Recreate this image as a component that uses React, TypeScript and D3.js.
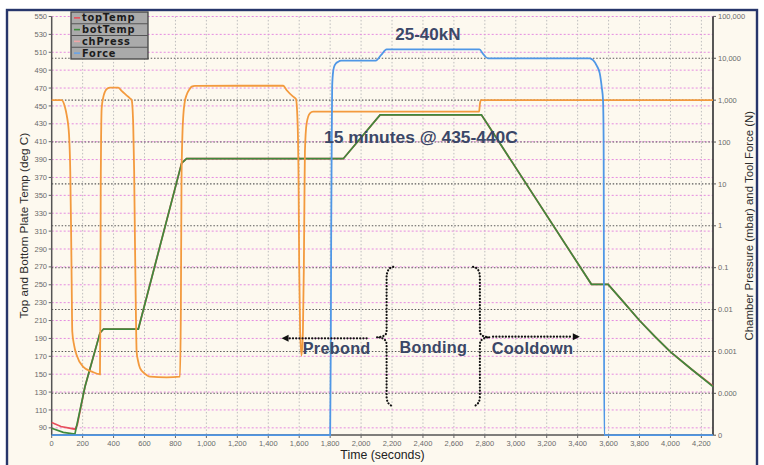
import React from "react";
import * as d3 from "d3";

// Bonding run log: plate temperatures (deg C), chamber pressure (mbar) and tool force (N) over time (s)
const seriesNames = ["topTemp", "botTemp", "chPress", "Force"];
const seriesColors = ["#e8505c", "#3f8a3c", "#f39a3e", "#4f97e6"];
const legendColors = ["#e8505c", "#3f8a3c", "#f0a6a6", "#6aa4e6"];

const topTemp: [number, number][] = [
  [0, 96], [60, 91.5], [150, 88.5], [165, 93], [215, 136], [312, 196], [335, 200.5],
  [560, 200.5], [840, 386], [872, 391], [1885, 391], [2123, 440], [2778, 440],
  [3489, 250.5], [3597, 250.5], [3700, 230], [3800, 210], [3900, 192], [4000, 175],
  [4140, 155], [4275, 137],
];

const botTemp: [number, number][] = [
  [0, 89.5], [75, 85], [150, 83], [215, 136], [312, 196], [335, 200.5],
  [560, 200.5], [840, 386], [872, 391], [1885, 391], [2123, 440], [2778, 440],
  [3489, 250.5], [3597, 250.5], [3700, 230], [3800, 210], [3900, 192], [4000, 175],
  [4140, 155], [4275, 136],
];

const chPress: [number, number][] = [
  [0, 1000], [64, 1000], [85, 700], [97, 440], [112, 150], [120, 20], [125, 1], [129, 0.05],
  [133, 3e-3], [145, 1.4e-3], [161, 8.2e-4], [204, 4.3e-4], [260, 3.3e-4], [312, 2.85e-4],
  [315, 0.01], [317, 10], [320, 200], [323, 640], [334, 1200], [344, 1590], [360, 1900],
  [377, 1990], [430, 1990], [452, 1660], [490, 1250], [506, 1107], [517, 1000], [527, 255],
  [533, 20], [538, 0.5], [544, 0.01], [549, 9.9e-4], [558, 6e-4], [571, 4e-4], [600, 3e-4],
  [635, 2.5e-4], [743, 2.4e-4], [829, 2.5e-4], [835, 0.01], [839, 10], [845, 150],
  [851, 443], [860, 900], [872, 1330], [890, 1800], [905, 2100], [926, 2200], [1497, 2210],
  [1518, 1750], [1561, 1210], [1579, 1066], [1590, 255], [1596, 10], [1600, 0.1],
  [1606, 3e-3], [1615, 8e-4], [1624, 3e-3], [1630, 0.1], [1634, 5], [1637, 60], [1648, 280],
  [1669, 485], [1690, 530], [2763, 530], [2768, 800], [2774, 1000], [4275, 1000],
];

const force: [number, number][] = [
  [0, 1e-5], [1800, 1e-5], [1804, 1e-3], [1807, 1], [1810, 60], [1813, 2100], [1820, 5000],
  [1830, 6900], [1850, 8200], [1874, 8750], [2095, 8800], [2130, 12000], [2165, 16300],
  [2765, 16300], [2790, 12500], [2820, 10000], [3478, 10000], [3500, 9000], [3525, 6500],
  [3543, 4370], [3556, 2000], [3564, 1010], [3568, 100], [3572, 1e-5], [4275, 1e-5],
];

const timeTicks = [0, 200, 400, 600, 800, 1000, 1200, 1400, 1600, 1800, 2000, 2200, 2400, 2600, 2800, 3000, 3200, 3400, 3600, 3800, 4000, 4200];
const tempTicks = [90, 110, 130, 150, 170, 190, 210, 230, 250, 270, 290, 310, 330, 350, 370, 390, 410, 430, 450, 470, 490, 510, 530, 550];
const logTicks = [1e5, 1e4, 1e3, 1e2, 1e1, 1, 1e-1, 1e-2, 1e-3, 1e-4, 1e-5];
const logTickLabels = ["100,000", "10,000", "1,000", "100", "10", "1", "0.1", "0.01", "0.001", "0.000", "0"];

const W = 764;
const H = 465;
const FONT = "'Liberation Sans', Arial, sans-serif";
const NOTE = "#3b4767";

export default function App() {
  const x = d3.scaleLinear().domain([0, 4275]).range([51.7, 713]);
  const yT = d3.scaleLinear().domain([82, 550]).range([435, 16.5]);
  const yP = d3.scaleLog().domain([1e-5, 1e5]).range([435.2, 16.4]);

  const tempLine = d3.line<[number, number]>().x((d) => x(d[0])).y((d) => yT(d[1]));
  const logLine = d3
    .line<[number, number]>()
    .x((d) => x(d[0]))
    .y((d) => yP(d[1]))
    .curve(d3.curveMonotoneX);

  const [x0, x1] = x.range();
  const yTop = 16.4;
  const yBot = 435;
  const fmt = d3.format(",");

  // curly brace drawn in data space: spine, tip and end positions along time
  const brace = (tSpine: number, tTip: number, tEnd: number) => {
    const p = d3.path();
    const sx = x(tSpine), tx = x(tTip), ex = x(tEnd);
    p.moveTo(ex, yT(270));
    p.quadraticCurveTo(sx, yT(269), sx, yT(258));
    p.lineTo(sx, yT(198));
    p.quadraticCurveTo(sx, yT(191.5), tx, yT(191.3));
    p.quadraticCurveTo(sx, yT(191), sx, yT(183));
    p.lineTo(sx, yT(125));
    p.quadraticCurveTo(sx, yT(116), ex, yT(114));
    return p.toString();
  };

  const dotStyle = {
    fill: "none",
    stroke: "#111",
    strokeWidth: 2.2,
    strokeDasharray: "0.1 3.1",
    strokeLinecap: "round" as const,
  };

  const arrowHead = (tx: number, ty: number, dir: number) => {
    const px = x(tx), py = yT(ty);
    return `M${px},${py} L${px - dir * 7},${py - 3.5} L${px - dir * 7},${py + 3.5} Z`;
  };

  const rowH = 11.75;

  return (
    <svg
      width={W}
      height={H}
      style={{ position: "absolute", left: 0, top: 0, background: "#ffffff" }}
      fontFamily={FONT}
    >
      <rect x={7} y={10} width={750} height={470} fill="#fdf9ef" stroke="#27366b" strokeWidth={2.4} />

      {/* grid */}
      {timeTicks.filter((t) => t > 0).map((t) => (
        <line key={"vx" + t} x1={x(t)} x2={x(t)} y1={yTop} y2={yBot} stroke="#bdbdbd" strokeWidth={1} strokeDasharray="1.5 2" />
      ))}
      {tempTicks.map((v) => (
        <line key={"gt" + v} x1={x0} x2={x1} y1={yT(v)} y2={yT(v)} stroke="#e58be0" strokeWidth={1} strokeDasharray="2 2" />
      ))}
      {logTicks.slice(1, -1).map((v) => (
        <line key={"gp" + v} x1={x0} x2={x1} y1={yP(v)} y2={yP(v)} stroke="#5a5a5a" strokeWidth={1.1} strokeDasharray="1.5 1.8" />
      ))}

      {/* axes */}
      <line x1={x0} x2={x0} y1={yTop} y2={yBot} stroke="#555" strokeWidth={1.5} />
      <line x1={x1} x2={x1} y1={yTop} y2={yBot} stroke="#444" strokeWidth={1.8} />
      <line x1={x0} x2={x1} y1={yBot} y2={yBot} stroke="#555" strokeWidth={1.5} />
      {tempTicks.map((v) => (
        <g key={"lt" + v}>
          <line x1={x0 - 3} x2={x0} y1={yT(v)} y2={yT(v)} stroke="#666" />
          <text x={47} y={yT(v) + 2.6} fontSize={7.5} fill="#6a6a6a" textAnchor="end">{v}</text>
        </g>
      ))}
      {logTicks.map((v, i) => (
        <g key={"rt" + v}>
          <line x1={x1} x2={x1 + 3} y1={yP(v)} y2={yP(v)} stroke="#555" />
          <text x={718} y={yP(v) + 2.6} fontSize={7.5} fill="#6a6a6a">{logTickLabels[i]}</text>
        </g>
      ))}
      {timeTicks.map((t) => (
        <g key={"bt" + t}>
          <line x1={x(t)} x2={x(t)} y1={yBot} y2={yBot + 3} stroke="#666" />
          <text x={x(t)} y={446} fontSize={7.5} fill="#6a6a6a" textAnchor="middle">{fmt(t)}</text>
        </g>
      ))}

      {/* axis titles */}
      <text transform={`translate(23.5,${(yTop + yBot) / 2}) rotate(-90)`} fontSize={11.7} fill="#2b2b2b" textAnchor="middle" dominantBaseline="central">
        Top and Bottom Plate Temp (deg C)
      </text>
      <text transform={`translate(749,${(yTop + yBot) / 2}) rotate(-90)`} fontSize={11.4} fill="#2b2b2b" textAnchor="middle" dominantBaseline="central">
        Chamber Pressure (mbar) and Tool Force (N)
      </text>
      <text x={382.5} y={459} fontSize={12.3} fill="#222" textAnchor="middle">Time (seconds)</text>

      {/* series */}
      <path d={tempLine(topTemp) ?? ""} fill="none" stroke={seriesColors[0]} strokeWidth={1.7} />
      <path d={tempLine(botTemp) ?? ""} fill="none" stroke={seriesColors[1]} strokeWidth={1.7} />
      <path d={logLine(chPress) ?? ""} fill="none" stroke={seriesColors[2]} strokeWidth={1.8} />
      <path d={logLine(force) ?? ""} fill="none" stroke={seriesColors[3]} strokeWidth={1.8} />

      {/* process phase notes */}
      <text x={x(2432)} y={yT(530.4)} fontSize={17} fontWeight="bold" fill={NOTE} textAnchor="middle" dominantBaseline="central">25-40kN</text>
      <text x={x(2387)} y={yT(415.6)} fontSize={17.4} fontWeight="bold" fill={NOTE} textAnchor="middle" dominantBaseline="central">15 minutes @ 435-440C</text>
      <text x={x(1842)} y={yT(179)} fontSize={16.2} fontWeight="bold" fill={NOTE} textAnchor="middle" dominantBaseline="central" letterSpacing={0.3}>Prebond</text>
      <text x={x(2467)} y={yT(180)} fontSize={16.2} fontWeight="bold" fill={NOTE} textAnchor="middle" dominantBaseline="central" letterSpacing={0.3}>Bonding</text>
      <text x={x(3108)} y={yT(179)} fontSize={16.4} fontWeight="bold" fill={NOTE} textAnchor="middle" dominantBaseline="central" letterSpacing={0.3}>Cooldown</text>

      <path d={brace(2165, 2100, 2208)} {...dotStyle} />
      <path d={brace(2768, 2833, 2724)} {...dotStyle} />
      <line x1={x(2036)} x2={x(1530)} y1={yT(190.1)} y2={yT(190.1)} {...dotStyle} />
      <path d={arrowHead(1486, 190.1, -1)} fill="#111" />
      <line x1={x(2853)} x2={x(3370)} y1={yT(191.9)} y2={yT(191.9)} {...dotStyle} />
      <path d={arrowHead(3414, 191.9, 1)} fill="#111" />

      {/* legend */}
      <g>
        <rect x={71} y={12} width={77} height={rowH * 4} fill="#aaaaaa" stroke="#444" strokeWidth={1.3} />
        {[1, 2, 3].map((i) => (
          <line key={"lr" + i} x1={71} x2={148} y1={12 + i * rowH} y2={12 + i * rowH} stroke="#555" strokeWidth={1} />
        ))}
        {seriesNames.map((name, i) => {
          const cy = 12 + i * rowH + rowH / 2;
          return (
            <g key={name}>
              <line x1={74} x2={80} y1={cy} y2={cy} stroke={legendColors[i]} strokeWidth={1.6} />
              <text
                x={82}
                y={cy}
                fontSize={9.8}
                fontWeight="bold"
                fontFamily="'DejaVu Sans', Verdana, sans-serif"
                fill="#1c1c1c"
                letterSpacing={0.8}
                dominantBaseline="central"
              >
                {name}
              </text>
            </g>
          );
        })}
      </g>
    </svg>
  );
}
